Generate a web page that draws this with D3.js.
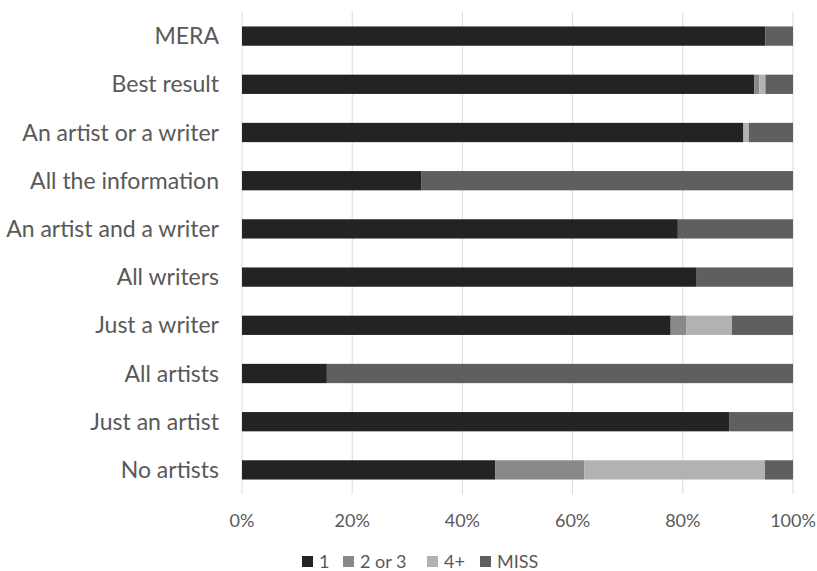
<!DOCTYPE html>
<html>
<head>
<meta charset="utf-8">
<script src="https://cdn.jsdelivr.net/npm/d3@7"></script>
<style>
  html, body { margin: 0; padding: 0; background: #ffffff; }
  svg { display: block; font-family: Lato, "Open Sans", sans-serif; }
</style>
</head>
<body>
<svg id="chart" width="817" height="571"></svg>
<script>
// Categories, listed top to bottom
const categories = ["MERA", "Best result", "An artist or a writer", "All the information",
  "An artist and a writer", "All writers", "Just a writer", "All artists",
  "Just an artist", "No artists"];

// Share of answers (%) per category
const one    = [95.0, 93.0, 91.0, 32.5, 79.1, 82.4, 77.8, 15.4, 88.4, 46.0];
const twoOr3 = [0.0,  0.9,  0.0,  0.0,  0.0,  0.0,  2.8,  0.0,  0.0,  16.1];
const fourUp = [0.0,  1.1,  1.0,  0.0,  0.0,  0.0,  8.3,  0.0,  0.0,  32.8];
const miss   = [5.0,  5.0,  8.0,  67.5, 20.9, 17.6, 11.1, 84.6, 11.6, 5.1];

const seriesNames = ["1", "2 or 3", "4+", "MISS"];
const tickValues = [0, 20, 40, 60, 80, 100];

const colors = {"1": "#232323", "2 or 3": "#898989", "4+": "#b2b2b2", "MISS": "#5f5f5f"};

const rows = categories.map((c, i) => ({
  category: c, "1": one[i], "2 or 3": twoOr3[i], "4+": fourUp[i], "MISS": miss[i]
}));

const svg = d3.select("#chart");
const plotLeft = 242, plotRight = 793, plotTop = 12, plotBottom = 494;

const x = d3.scaleLinear().domain([0, 100]).range([plotLeft, plotRight]);
const y = d3.scaleBand().domain(categories).range([plotTop, plotBottom])
  .paddingInner(0.6).paddingOuter(0.3);

// vertical gridlines
svg.append("g").selectAll("line").data(tickValues).join("line")
  .attr("x1", d => x(d)).attr("x2", d => x(d))
  .attr("y1", plotTop).attr("y2", plotBottom)
  .attr("stroke", "#d9d9d9").attr("stroke-width", 1);

const stack = d3.stack().keys(seriesNames);
const layers = stack(rows);

svg.append("g").selectAll("g").data(layers).join("g")
  .attr("fill", d => colors[d.key])
  .selectAll("rect").data(d => d).join("rect")
  .attr("x", d => x(d[0]))
  .attr("width", d => Math.max(0, x(d[1]) - x(d[0])))
  .attr("y", d => y(d.data.category))
  .attr("height", y.bandwidth());

// category labels
svg.append("g").selectAll("text").data(categories).join("text")
  .attr("x", 219)
  .attr("y", d => y(d) + y.bandwidth() / 2)
  .attr("dy", "0.35em")
  .attr("text-anchor", "end")
  .attr("font-size", 23)
  .attr("fill", "#595959")
  .text(d => d);

// x-axis tick labels
svg.append("g").selectAll("text").data(tickValues).join("text")
  .attr("x", d => x(d))
  .attr("y", 527)
  .attr("text-anchor", "middle")
  .attr("font-size", 18)
  .attr("fill", "#595959")
  .text(d => d + "%");

// legend
const legendX = [302, 343, 427, 480];
const legend = svg.append("g").selectAll("g").data(seriesNames).join("g")
  .attr("transform", (d, i) => `translate(${legendX[i]},556)`);
legend.append("rect").attr("width", 11).attr("height", 11)
  .attr("fill", d => colors[d]);
legend.append("text").attr("x", 17).attr("y", 11.5)
  .attr("font-size", 18).attr("fill", "#595959")
  .text(d => d);
</script>
</body>
</html>
